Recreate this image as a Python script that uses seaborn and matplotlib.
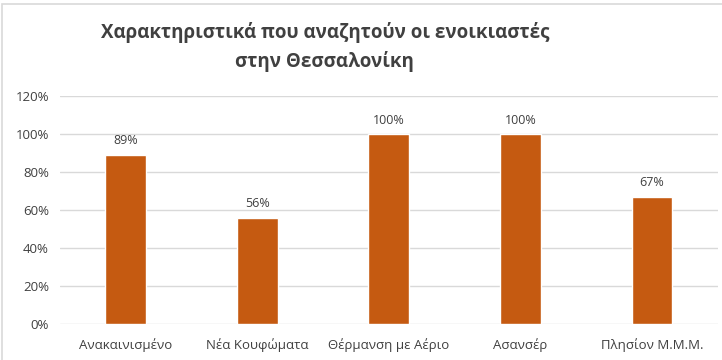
import numpy as np
import pandas as pd
import seaborn as sns
import matplotlib.pyplot as plt
from matplotlib.ticker import PercentFormatter
from matplotlib.patches import Rectangle

categories = ["Ανακαινισμένο", "Νέα Κουφώματα", "Θέρμανση με Αέριο", "Ασανσέρ", "Πλησίον Μ.Μ.Μ."]
values = [0.89, 0.56, 1.00, 1.00, 0.67]
labels = ["89%", "56%", "100%", "100%", "67%"]

df = pd.DataFrame({"cat": categories, "val": values})

sns.set_style("white")
plt.rcParams['font.family'] = ['Open Sans', 'DejaVu Sans']

fig = plt.figure(figsize=(7.22, 3.6), dpi=100)
ax = fig.add_axes([0.083, 0.1, 0.911, 0.633])

sns.barplot(data=df, x="cat", y="val", color="#C55A11", width=0.31, saturation=1, ax=ax, zorder=3)

for i, (v, t) in enumerate(zip(values, labels)):
    ax.text(i, v + 0.04, t, ha="center", va="bottom", fontsize=9, color="#404040")

ax.set_ylim(0, 1.2)
ax.set_yticks(np.arange(0, 1.21, 0.2))
ax.yaxis.set_major_formatter(PercentFormatter(1.0, decimals=0))
ax.grid(axis="y", color="#d9d9d9", linewidth=1, zorder=0)
ax.set_xlabel("")
ax.set_ylabel("")
for s in ax.spines.values():
    s.set_visible(False)
ax.tick_params(axis="both", length=0, labelsize=9.5, colors="#404040", pad=8)
ax.tick_params(axis="x", pad=10)

fig.text(0.45, 0.87, "Χαρακτηριστικά που αναζητούν οι ενοικιαστές\nστην Θεσσαλονίκη",
         ha="center", va="center", fontsize=13.5, fontweight="bold", color="#404040", linespacing=1.5)

fig.patches.append(Rectangle((0.003, -0.01), 0.999, 1.0, transform=fig.transFigure,
                             fill=False, edgecolor="#d9d9d9", linewidth=1.2))

fig.savefig("out.png", dpi=100)
